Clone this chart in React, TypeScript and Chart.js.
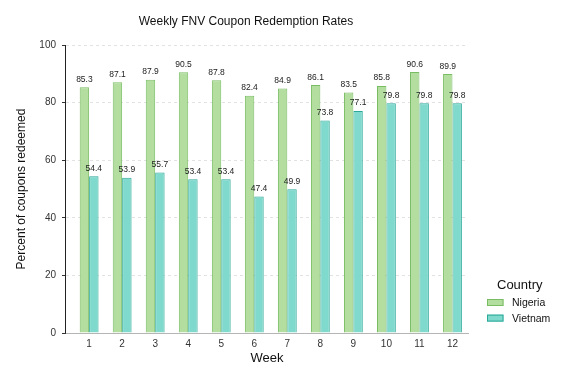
import React, { useEffect, useRef } from "react";
import { Chart, registerables } from "chart.js";

Chart.register(...registerables);

const weeks = [1, 2, 3, 4, 5, 6, 7, 8, 9, 10, 11, 12];
const nigeria = [85.3, 87.1, 87.9, 90.5, 87.8, 82.4, 84.9, 86.1, 83.5, 85.8, 90.6, 89.9];
const vietnam = [54.4, 53.9, 55.7, 53.4, 53.4, 47.4, 49.9, 73.8, 77.1, 79.8, 79.8, 79.8];
const seriesNames = ["Nigeria", "Vietnam"];
const yTicks = [0, 20, 40, 60, 80, 100];
const chartTitle = "Weekly FNV Coupon Redemption Rates";
const xTitle = "Week";
const yTitle = "Percent of coupons redeemed";
const legendTitle = "Country";

const FONT = "'Liberation Sans', Arial, Helvetica, sans-serif";
const fills = ["#b3de9f", "#7fd9cc"];
const borders = ["#79bd63", "#2aa898"];

const labelsPlugin = {
  id: "barLabels",
  afterDatasetsDraw(chart: any) {
    const ctx = chart.ctx;
    ctx.save();
    ctx.font = `8.5px ${FONT}`;
    ctx.fillStyle = "#222";
    ctx.textAlign = "center";
    ctx.textBaseline = "alphabetic";
    chart.data.datasets.forEach((ds: any, di: number) => {
      const meta = chart.getDatasetMeta(di);
      meta.data.forEach((el: any, i: number) => {
        const v = ds.data[i].y;
        ctx.fillText(v.toFixed(1), el.x, el.y - 5.5);
      });
    });
    ctx.restore();
  },
};

const axisLinePlugin = {
  id: "yAxisLine",
  beforeDatasetsDraw(chart: any) {
    const { ctx, chartArea } = chart;
    const x = Math.round(chartArea.left) - 0.5;
    ctx.save();
    ctx.strokeStyle = "#222";
    ctx.lineWidth = 1;
    ctx.setLineDash([]);
    ctx.beginPath();
    ctx.moveTo(x, chartArea.top);
    ctx.lineTo(x, chartArea.bottom);
    ctx.stroke();
    ctx.restore();
  },
};

const titlePlugin = {
  id: "customTitle",
  afterDraw(chart: any) {
    const ctx = chart.ctx;
    ctx.save();
    ctx.font = `12px ${FONT}`;
    ctx.fillStyle = "#111";
    ctx.textAlign = "center";
    ctx.textBaseline = "alphabetic";
    ctx.fillText(chartTitle, 246, 24.5);
    ctx.restore();
  },
};

const legendPlugin = {
  id: "customLegend",
  afterDraw(chart: any) {
    const ctx = chart.ctx;
    const x0 = chart.chartArea.right + 19;
    ctx.save();
    ctx.textAlign = "left";
    ctx.textBaseline = "alphabetic";
    ctx.fillStyle = "#111";
    ctx.font = `13px ${FONT}`;
    ctx.fillText(legendTitle, x0 + 10, 289);
    ctx.font = `10.5px ${FONT}`;
    seriesNames.forEach((name, i) => {
      const y = 299 + i * 15.6;
      ctx.fillStyle = fills[i];
      ctx.fillRect(x0, y, 16.5, 7);
      ctx.strokeStyle = borders[i];
      ctx.lineWidth = 1;
      ctx.strokeRect(x0 + 0.5, y + 0.5, 15.5, 6);
      ctx.fillStyle = "#111";
      ctx.fillText(name, x0 + 25, y + 7);
    });
    ctx.restore();
  },
};

export default function App() {
  const ref = useRef<HTMLCanvasElement | null>(null);
  useEffect(() => {
    if (!ref.current) return;
    Chart.defaults.font.family = FONT;
    const chart = new Chart(ref.current, {
      type: "bar",
      data: {
        datasets: [
          {
            label: seriesNames[0],
            data: weeks.map((w, i) => ({ x: w, y: nigeria[i] })),
            backgroundColor: fills[0],
            borderColor: borders[0],
            borderWidth: 1,
            categoryPercentage: 0.57,
            barPercentage: 1,
          },
          {
            label: seriesNames[1],
            data: weeks.map((w, i) => ({ x: w, y: vietnam[i] })),
            backgroundColor: fills[1],
            borderColor: borders[1],
            borderWidth: 1,
            categoryPercentage: 0.57,
            barPercentage: 1,
          },
        ],
      },
      options: {
        responsive: false,
        animation: false,
        layout: { padding: { top: 45, right: 108, left: 0, bottom: 0 } },
        plugins: {
          legend: { display: false },
          title: { display: false },
          tooltip: { enabled: false },
        },
        scales: {
          x: {
            type: "linear",
            min: 0.3,
            max: 12.47,
            offset: false,
            afterBuildTicks: (s: any) => {
              s.ticks = weeks.map((v) => ({ value: v }));
            },
            afterFit: (s: any) => {
              s.height = 51;
            },
            grid: { display: false, drawTicks: false },
            border: { display: true, color: "#b5b5b5", width: 1 },
            ticks: {
              font: { size: 10, family: FONT },
              color: "#333",
              padding: 5,
              autoSkip: false,
              maxRotation: 0,
              callback: (v: any) => String(v),
            },
            title: {
              display: true,
              text: xTitle,
              font: { size: 13, family: FONT },
              color: "#111",
              padding: { top: 0, bottom: 18 },
            },
          },
          y: {
            min: 0,
            max: 100,
            afterBuildTicks: (s: any) => {
              s.ticks = yTicks.map((v) => ({ value: v }));
            },
            afterFit: (s: any) => {
              s.width = 66;
            },
            grid: {
              color: "#e2e2e2",
              lineWidth: 1,
              drawTicks: true,
              tickLength: 4,
              tickColor: "#333",
              tickWidth: 1,
              tickBorderDash: [],
            },
            border: { display: false, dash: [3, 3] },
            ticks: {
              font: { size: 10, family: FONT },
              color: "#333",
              padding: 6,
              callback: (v: any) => String(v),
            },
            title: {
              display: true,
              text: yTitle,
              font: { size: 12, family: FONT },
              color: "#111",
              padding: { top: 14, bottom: 0 },
            },
          },
        },
      },
      plugins: [axisLinePlugin, labelsPlugin, titlePlugin, legendPlugin],
    } as any);
    return () => chart.destroy();
  }, []);
  return (
    <div style={{ position: "fixed", left: 0, top: 0, width: 576, height: 384, background: "#fff" }}>
      <canvas ref={ref} width={576} height={384} style={{ width: 576, height: 384, display: "block" }} />
    </div>
  );
}
